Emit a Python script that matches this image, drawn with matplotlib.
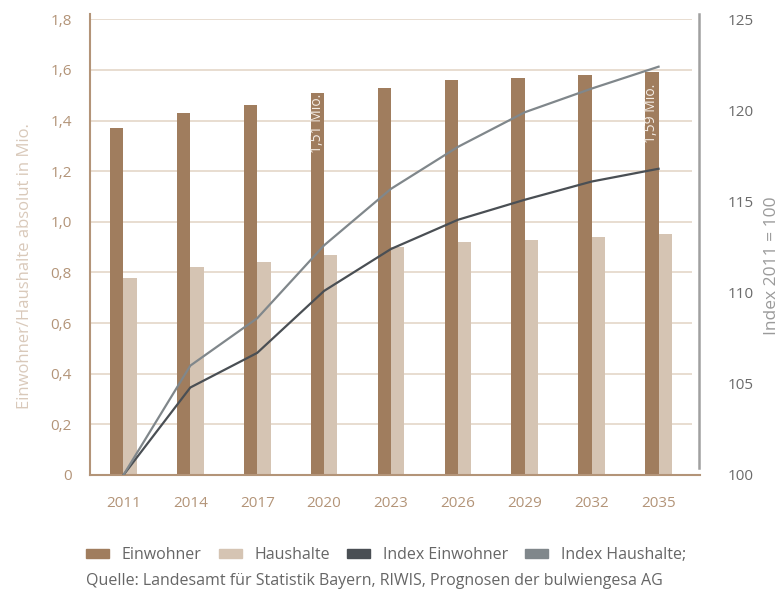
import matplotlib.pyplot as plt
import numpy as np
from matplotlib.patches import Patch
from matplotlib.lines import Line2D

plt.rcParams['font.family'] = ['Open Sans', 'DejaVu Sans']

years = ['2011', '2014', '2017', '2020', '2023', '2026', '2029', '2032', '2035']
einwohner = [1.37, 1.43, 1.46, 1.51, 1.53, 1.56, 1.57, 1.58, 1.59]
haushalte = [0.78, 0.82, 0.84, 0.87, 0.90, 0.92, 0.93, 0.94, 0.95]
index_einwohner = [100, 104.8, 106.7, 110.1, 112.4, 114.0, 115.1, 116.1, 116.8]
index_haushalte = [100, 106.0, 108.6, 112.6, 115.7, 118.0, 119.9, 121.2, 122.4]
bar_labels = {3: '1,51 Mio.', 8: '1,59 Mio.'}
# gap between bar top and the start of its label
label_drop = {3: 0.006, 8: 0.045}

brown = '#a07d5e'
beige = '#d5c4b3'
dark_grey = '#4a4f54'
light_grey = '#80878b'
tan_text = '#b39478'
grid_col = '#e6dacd'

fig = plt.figure(figsize=(7.79, 5.91), dpi=100)
ax = fig.add_axes([90 / 779, 116 / 591, 602 / 779, 455.7 / 591])
x = np.arange(len(years))
w = 0.2

ax.bar(x - w / 2, einwohner, width=w, color=brown, zorder=2)
ax.bar(x + w / 2, haushalte, width=w, color=beige, zorder=2)
for i, txt in bar_labels.items():
    ax.text(x[i] - w / 2, einwohner[i] - label_drop[i], txt, rotation=90, ha='center', va='top',
            color='#f4ede6', fontsize=10, zorder=3)

ax.set_xlim(-0.5, 8.5)
ax.set_ylim(0, 1.8)
ax.set_yticks(np.arange(0, 1.81, 0.2))
ax.set_yticklabels(['0'] + [f'{v:.1f}'.replace('.', ',') for v in np.arange(0.2, 1.81, 0.2)])
ax.set_xticks(x)
ax.set_xticklabels(years)
ax.tick_params(axis='both', length=0, colors=tan_text, labelsize=11)
ax.tick_params(axis='x', pad=15)
ax.tick_params(axis='y', pad=13)
ax.yaxis.grid(True, color=grid_col, lw=1.3, zorder=0)
ax.set_axisbelow(True)
for s in ax.spines.values():
    s.set_visible(False)
# axis lines drawn by hand so they can run past the plot box
ax.add_line(Line2D([0, 0], [0, 1.012], transform=ax.transAxes, color=tan_text, lw=1.5, clip_on=False))
ax.add_line(Line2D([0, 1.013], [0, 0], transform=ax.transAxes, color=tan_text, lw=1.5, clip_on=False, zorder=5))
ax.add_line(Line2D([1.011, 1.011], [0.015, 1.012], transform=ax.transAxes, color='#a0a0a0', lw=1.8, clip_on=False))

ax2 = ax.twinx()
ax2.plot(x, index_einwohner, color=dark_grey, lw=1.6, zorder=3)
ax2.plot(x, index_haushalte, color=light_grey, lw=1.6, zorder=3)
ax2.set_ylim(100, 125)
ax2.set_yticks(range(100, 126, 5))
ax2.tick_params(axis='y', length=0, colors='#6b6b6b', labelsize=11, pad=26)
for s in ax2.spines.values():
    s.set_visible(False)

fig.text(25 / 779, 1 - 266 / 591, 'Einwohner/Haushalte absolut in Mio.', rotation=90,
         ha='center', va='center', color='#d9c9ba', fontsize=12)
fig.text(772 / 779, 1 - 266 / 591, 'Index 2011 = 100', rotation=90,
         ha='center', va='center', color='#9a9a9a', fontsize=12.5)

handles = [Patch(color=brown), Patch(color=beige), Patch(color=dark_grey), Patch(color=light_grey)]
names = ['Einwohner', 'Haushalte', 'Index Einwohner', 'Index Haushalte;']
fig.legend(handles, names, loc='center left', bbox_to_anchor=(86 / 779, 1 - 555 / 591), ncol=4,
           frameon=False, borderpad=0, borderaxespad=0, handlelength=1.44, handleheight=0.5,
           handletextpad=0.8, columnspacing=1.06, labelcolor='#666666', fontsize=11.5)
fig.text(86 / 779, 1 - 581 / 591, 'Quelle: Landesamt für Statistik Bayern, RIWIS, Prognosen der bulwiengesa AG',
         ha='left', va='center', color='#666666', fontsize=11.5)

fig.savefig('out.png', dpi=100)
